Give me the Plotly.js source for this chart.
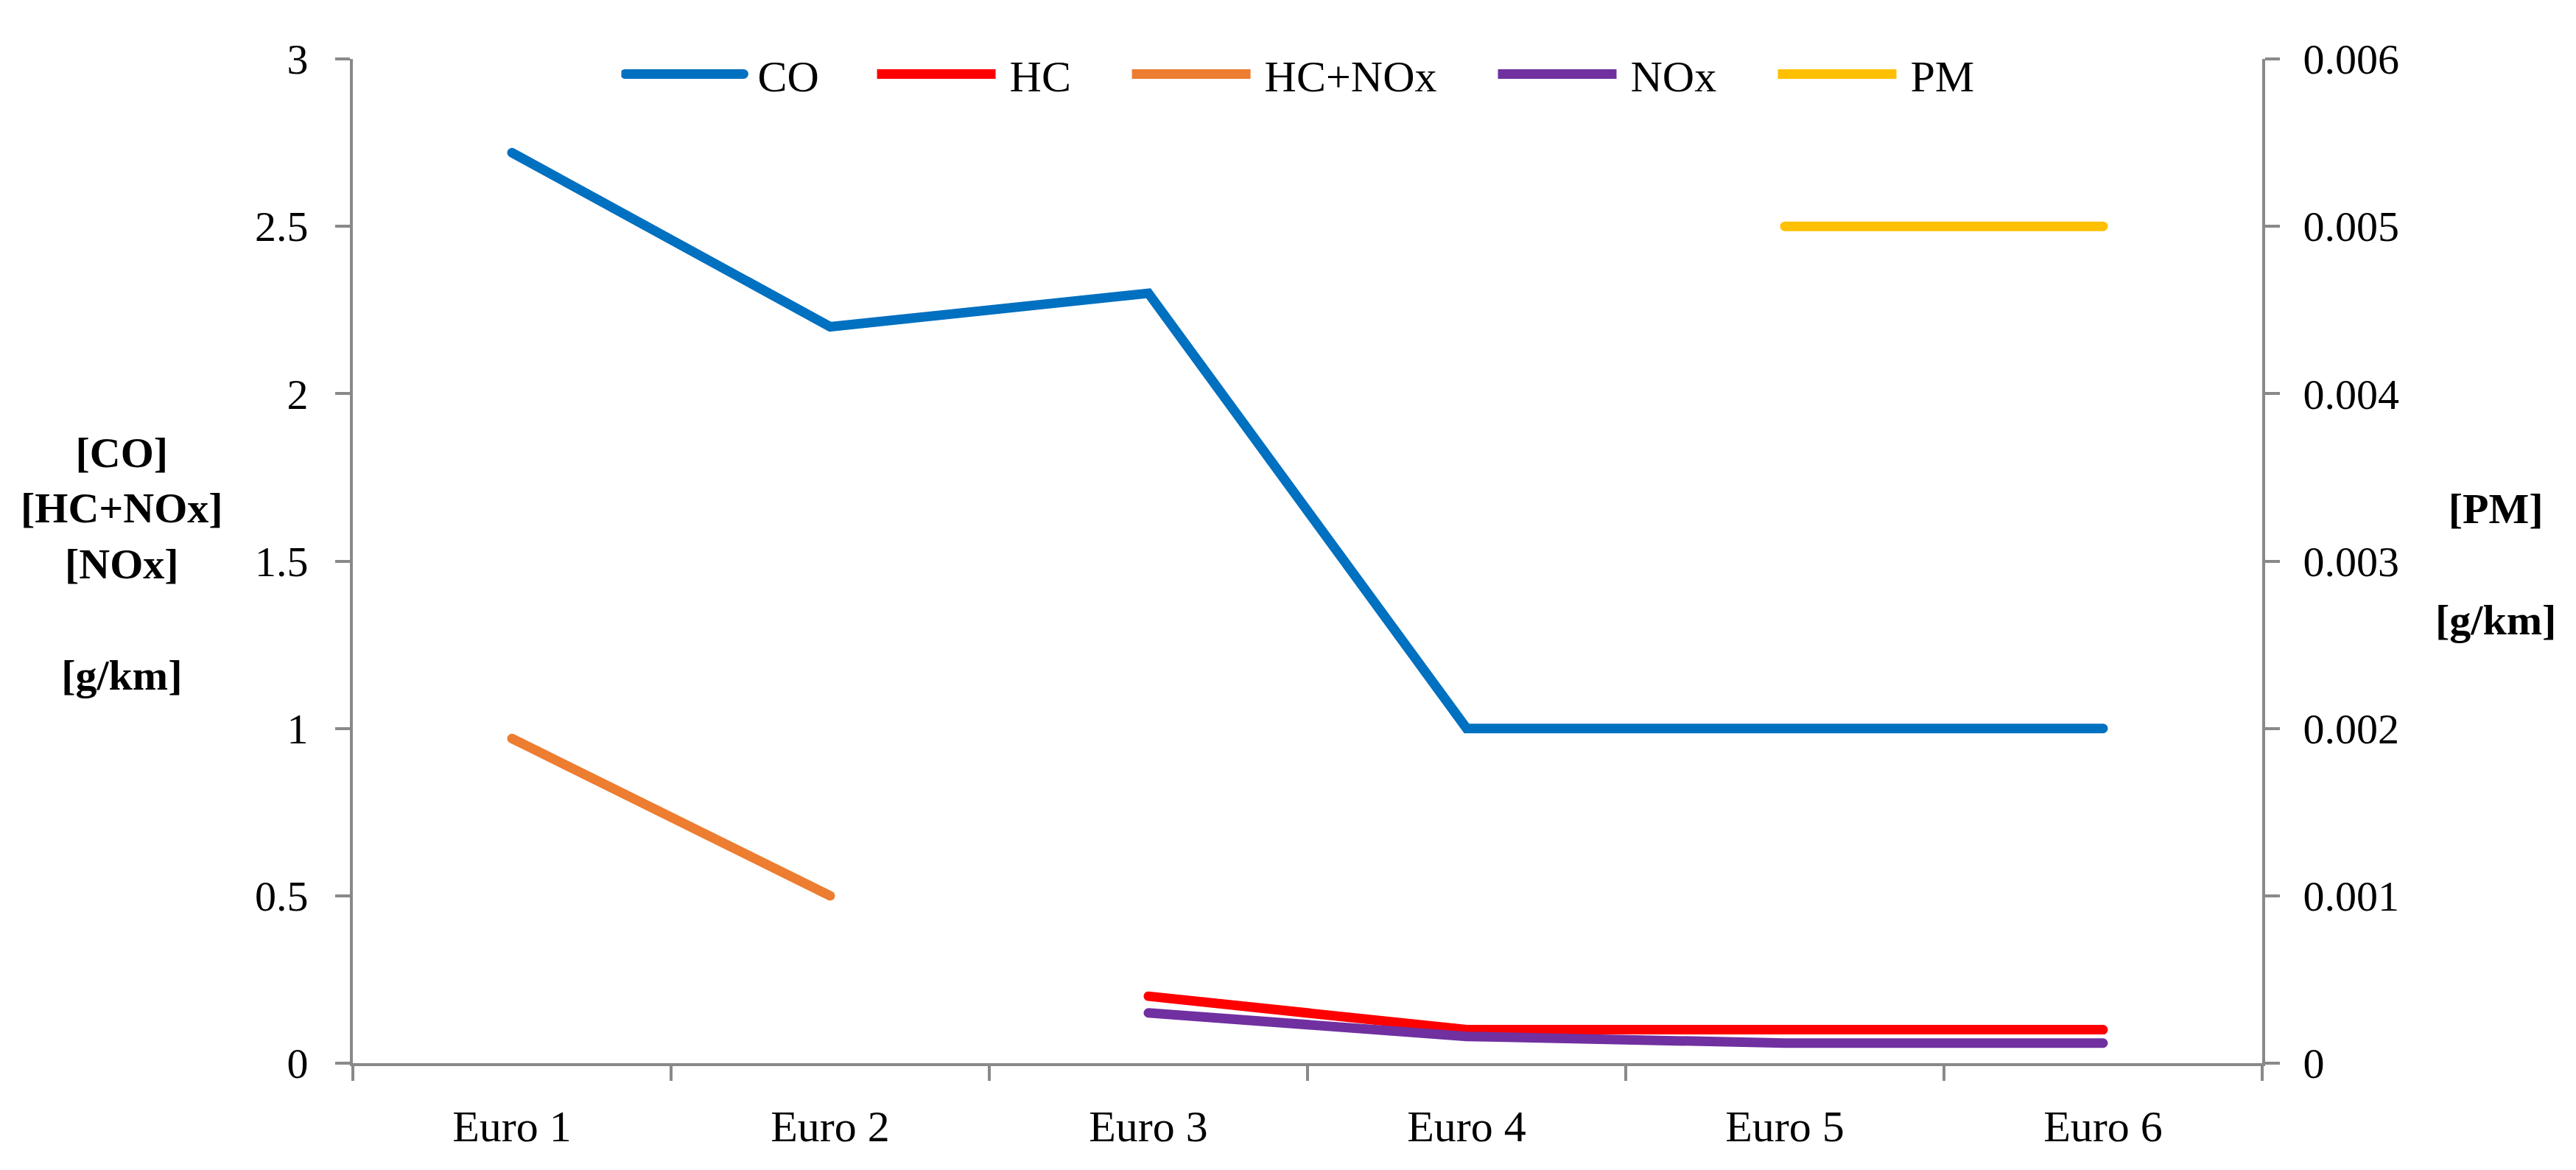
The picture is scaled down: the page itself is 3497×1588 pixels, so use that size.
<!DOCTYPE html>
<html>
<head>
<meta charset="utf-8">
<script src="https://cdn.plot.ly/plotly-3.0.1.min.js"></script>
<style>
  html, body { margin: 0; padding: 0; background: #ffffff; }
  #chart { width: 3497px; height: 1588px; }
  .scatterlayer .js-line, .legend .js-line { stroke-linecap: round; }
</style>
</head>
<body>
<div id="chart"></div>
<script>
  // Euro emission limits (petrol cars)
  const categories = ['Euro 1', 'Euro 2', 'Euro 3', 'Euro 4', 'Euro 5', 'Euro 6'];
  const coValues = [2.72, 2.2, 2.3, 1.0, 1.0, 1.0];
  const hcValues = [null, null, 0.2, 0.1, 0.1, 0.1];
  const hcNoxValues = [0.97, 0.5, null, null, null, null];
  const noxValues = [null, null, 0.15, 0.08, 0.06, 0.06];
  const pmValues = [null, null, null, null, 0.005, 0.005];

  const seriesNames = ['CO', 'HC', 'HC+NOx', 'NOx', 'PM'];
  const seriesColors = ['#0070C0', '#FF0000', '#ED7D31', '#7030A0', '#FFC000'];

  const leftTitle = '[CO]<br>[HC+NOx]<br>[NOx]<br><br>[g/km]';
  const rightTitle = '[PM]<br><br>[g/km]';

  const axisGray = '#898989';
  const serif = '"Liberation Serif", "Times New Roman", serif';
  const lineWidth = 13;

  // one legend box per entry so the spacing follows the original
  const legendSlots = [0.1406, 0.2726, 0.4061, 0.5978, 0.7444];
  const legendKeyLength = 161;

  function lineTrace(index, values, yaxis) {
    return {
      type: 'scatter',
      mode: 'lines',
      name: seriesNames[index],
      x: categories,
      y: values,
      yaxis,
      legend: index === 0 ? 'legend' : `legend${index + 1}`,
      connectgaps: false,
      line: { color: seriesColors[index], width: lineWidth },
      hoverinfo: 'skip'
    };
  }

  const traces = [
    lineTrace(0, coValues, 'y'),
    lineTrace(1, hcValues, 'y'),
    lineTrace(2, hcNoxValues, 'y'),
    lineTrace(3, noxValues, 'y'),
    lineTrace(4, pmValues, 'y2')
  ];

  const baseAxis = {
    showline: true,
    linecolor: axisGray,
    linewidth: 4,
    ticks: 'outside',
    ticklen: 20,
    tickwidth: 4,
    tickcolor: axisGray,
    showgrid: false,
    zeroline: false,
    fixedrange: true
  };

  function legendBox(x) {
    return {
      orientation: 'h',
      x,
      xanchor: 'left',
      y: 0.985,
      yanchor: 'middle',
      itemwidth: 175,
      bgcolor: 'rgba(0,0,0,0)',
      borderwidth: 0,
      font: { family: serif, size: 60, color: '#000000' }
    };
  }

  const layout = {
    width: 3497,
    height: 1588,
    margin: { l: 479, r: 426, t: 80, b: 145, pad: 0 },
    paper_bgcolor: '#ffffff',
    plot_bgcolor: '#ffffff',
    font: { family: serif, color: '#000000', size: 58 },
    showlegend: true,
    xaxis: {
      ...baseAxis,
      type: 'category',
      range: [-0.5, 5.5],
      tickson: 'boundaries',
      ticklabelstandoff: 30,
      tickfont: { family: serif, size: 60, color: '#000000' }
    },
    yaxis: {
      ...baseAxis,
      range: [0, 3],
      dtick: 0.5,
      ticklabelstandoff: 25,
      tickfont: { family: serif, size: 58, color: '#000000' }
    },
    yaxis2: {
      ...baseAxis,
      overlaying: 'y',
      side: 'right',
      range: [0, 0.006],
      dtick: 0.001,
      ticklabelstandoff: 20,
      tickfont: { family: serif, size: 58, color: '#000000' }
    },
    annotations: [
      {
        text: leftTitle,
        xref: 'paper', yref: 'paper',
        x: -0.1208, y: 0.497,
        xanchor: 'center', yanchor: 'middle',
        showarrow: false,
        align: 'center',
        font: { family: serif, size: 58, weight: 'bold', color: '#000000' }
      },
      {
        text: rightTitle,
        xref: 'paper', yref: 'paper',
        x: 1.1223, y: 0.497,
        xanchor: 'center', yanchor: 'middle',
        showarrow: false,
        align: 'center',
        font: { family: serif, size: 58, weight: 'bold', color: '#000000' }
      }
    ]
  };

  legendSlots.forEach((x, index) => {
    layout[index === 0 ? 'legend' : `legend${index + 1}`] = legendBox(x);
  });

  Plotly.newPlot('chart', traces, layout, { displayModeBar: false, staticPlot: true }).then((gd) => {
    // stretch the legend keys to the longer Excel-style samples
    gd.querySelectorAll('.legendlines path').forEach((path) => {
      path.setAttribute('d', `M5,0h${legendKeyLength}`);
      path.style.strokeWidth = `${lineWidth}px`;
    });
  });
</script>
</body>
</html>
